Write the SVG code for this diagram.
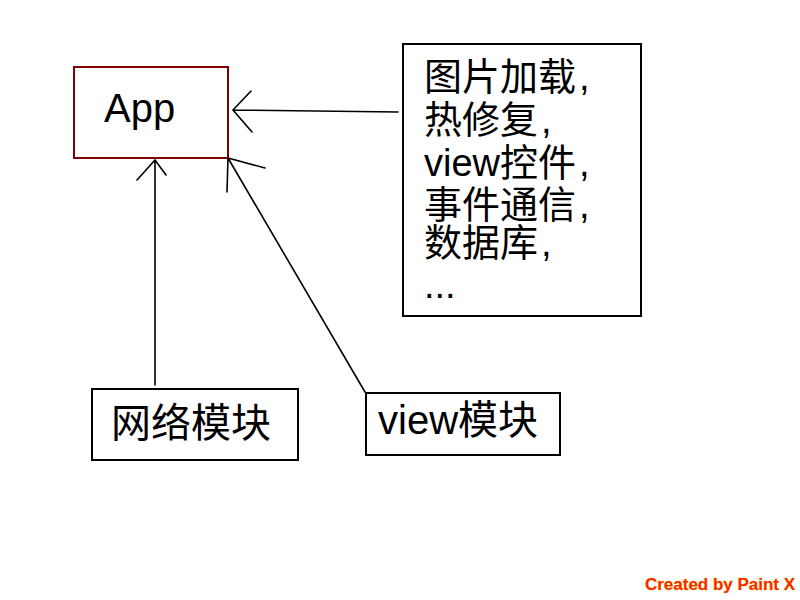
<svg xmlns="http://www.w3.org/2000/svg" width="800" height="600" viewBox="0 0 800 600">
  <style>
    .box { fill: #ffffff; stroke: #000000; stroke-width: 2; }
    .app { fill: #ffffff; stroke: #800000; stroke-width: 2; }
    .label { font-family: "Liberation Sans", "Noto Sans CJK SC", sans-serif; fill: #000000; }
    .wire { fill: none; stroke: #000000; stroke-width: 1.6; stroke-linecap: round; }
    .mark { font-family: "Liberation Sans", "DejaVu Sans", sans-serif; font-weight: bold; font-size: 16px; fill: #f52a00; stroke: #ffd800; stroke-width: 0.5; paint-order: stroke; }
  </style>
  <rect width="800" height="600" fill="#ffffff"/>

  <g id="app">
    <rect class="app" x="74" y="67" width="154" height="91"/>
    <text class="label" x="104" y="122" font-size="40">App</text>
  </g>

  <g id="features">
    <rect class="box" x="403" y="44" width="238" height="272"/>
    <text class="label" font-size="38">
      <tspan x="424" y="90">图片加载<tspan dx="3">,</tspan></tspan>
      <tspan x="424" y="133">热修复<tspan dx="3">,</tspan></tspan>
      <tspan x="424" y="176">view控件<tspan dx="3">,</tspan></tspan>
      <tspan x="424" y="218">事件通信<tspan dx="3">,</tspan></tspan>
      <tspan x="424" y="256">数据库<tspan dx="3">,</tspan></tspan>
      <tspan x="424" y="298">...</tspan>
    </text>
  </g>

  <g id="network">
    <rect class="box" x="92" y="389" width="206" height="71"/>
    <text class="label" x="111" y="437" font-size="40">网络模块</text>
  </g>

  <g id="view">
    <rect class="box" x="366" y="393" width="194" height="62"/>
    <text class="label" x="378" y="434" font-size="40">view模块</text>
  </g>

  <g id="connectors">
    <!-- features -> App -->
    <path class="wire" d="M398 112 L233 110 M251 91 L233 110 L252 132"/>
    <!-- network -> App -->
    <path class="wire" d="M155 385 L155 160 M137 180 L155 160 L166 175"/>
    <!-- view -> App -->
    <path class="wire" d="M365 392 L228 158 M265 168 L228 158 L227 192"/>
  </g>

  <text class="mark" x="645" y="590" textLength="150" lengthAdjust="spacingAndGlyphs">Created by Paint X</text>
</svg>
